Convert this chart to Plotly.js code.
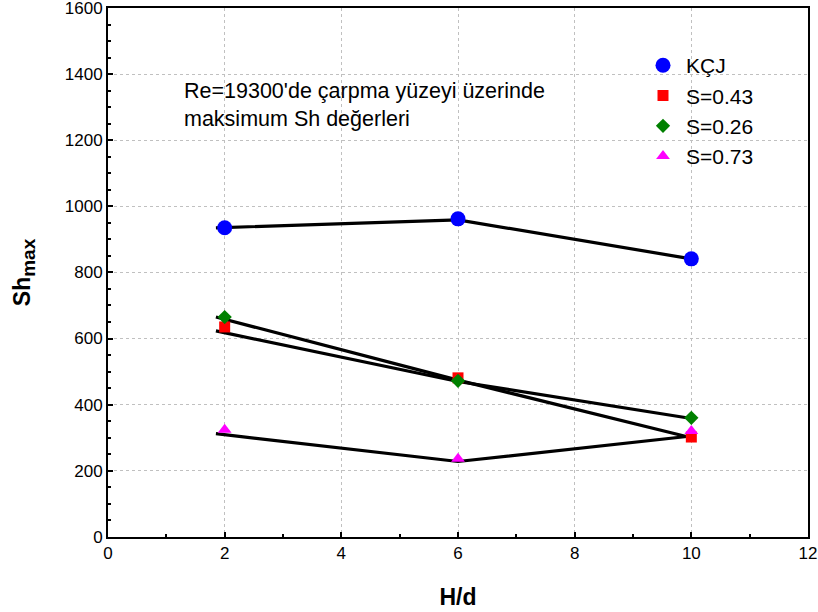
<!DOCTYPE html>
<html>
<head>
<meta charset="utf-8">
<script src="https://cdn.plot.ly/plotly-3.0.1.min.js"></script>
<style>html,body{margin:0;padding:0;background:#fff;}#chart{width:818px;height:612px;}</style>
</head>
<body>
<div id="chart"></div>
<script>
// Data
const hd = [2, 6, 10];
const kcj = [935, 962, 841];
const s043 = [635, 481, 302];
const s026 = [665, 472, 360];
const s073 = [324, 236, 320];
// black connecting lines (as drawn in the reference)
const lineX = [1.85, 6, 10];
const lineKCJ = [935, 959, 841];
const lineA = [665, 474, 300];
const lineB = [623, 470, 358];
const lineC = [312, 228, 305];
const seriesNames = ["KÇJ", "S=0.43", "S=0.26", "S=0.73"];
const xTicks = [0, 2, 4, 6, 8, 10, 12];
const yTicks = [0, 200, 400, 600, 800, 1000, 1200, 1400, 1600];

const FONT = "Liberation Sans, Arial, sans-serif";
const lineStyle = {color: "#000", width: 3.2};
const traces = [];
[lineKCJ, lineA, lineB, lineC].forEach(l => traces.push({
  x: lineX, y: l, mode: "lines", line: lineStyle, showlegend: false, hoverinfo: "skip"
}));
traces.push({x: hd, y: kcj, mode: "markers", name: seriesNames[0],
  marker: {symbol: "circle", size: 15, color: "#0000ff"}});
traces.push({x: hd, y: s043, mode: "markers", name: seriesNames[1],
  marker: {symbol: "square", size: 11, color: "#ff0000"}});
traces.push({x: hd, y: s026, mode: "markers", name: seriesNames[2],
  marker: {symbol: "diamond", size: 11, color: "#008000"}});
traces.push({x: hd, y: s073, mode: "markers", name: seriesNames[3],
  marker: {symbol: "triangle-up", size: 12, color: "#ff00ff"}});

const layout = {
  width: 818, height: 612,
  margin: {l: 108, r: 10, t: 8, b: 75},
  paper_bgcolor: "#fff", plot_bgcolor: "#fff",
  font: {family: FONT, color: "#000"},
  showlegend: true,
  legend: {x: 0.76, y: 0.93, xanchor: "left", yanchor: "top", itemwidth: 36,
    font: {size: 21, family: FONT}, bgcolor: "rgba(0,0,0,0)", tracegroupgap: 0},
  xaxis: {
    range: [0, 12], tickvals: xTicks,
    ticks: "inside", ticklen: 5, tickwidth: 1.5, tickcolor: "#000",
    minor: {tickvals: [1, 3, 5, 7, 9, 11], ticks: "inside", ticklen: 3, tickcolor: "#000", showgrid: false},
    showgrid: true, gridcolor: "#c0c0c0", griddash: "dot", gridwidth: 1,
    showline: true, linecolor: "#000", linewidth: 2, mirror: true,
    zeroline: false, tickfont: {size: 17, family: FONT}, ticklabeloverflow: "allow",
    title: {text: "<b>H/d</b>", font: {size: 23, family: FONT}, standoff: 26}
  },
  yaxis: {
    range: [-0.5, 1600], tickvals: yTicks,
    ticks: "inside", ticklen: 5, tickwidth: 1.5, tickcolor: "#000",
    minor: {dtick: 50, ticks: "inside", ticklen: 3, tickcolor: "#000", showgrid: false},
    showgrid: true, gridcolor: "#c0c0c0", griddash: "dot", gridwidth: 1,
    showline: true, linecolor: "#000", linewidth: 2, mirror: true,
    zeroline: false, tickfont: {size: 17, family: FONT}, ticklabeloverflow: "allow",
    title: {text: "<b>Sh<sub><span style=\"font-size:19px\">max</span></sub></b>", font: {size: 23, family: FONT}, standoff: 28}
  },
  annotations: [{
    xref: "paper", yref: "paper", x: 0.105, y: 0.869, xanchor: "left", yanchor: "top",
    align: "left", showarrow: false,
    text: "Re=19300'de çarpma yüzeyi üzerinde<br>maksimum Sh değerleri",
    font: {size: 21.5, family: FONT}
  }]
};
Plotly.newPlot("chart", traces, layout, {displayModeBar: false});
</script>
</body>
</html>
